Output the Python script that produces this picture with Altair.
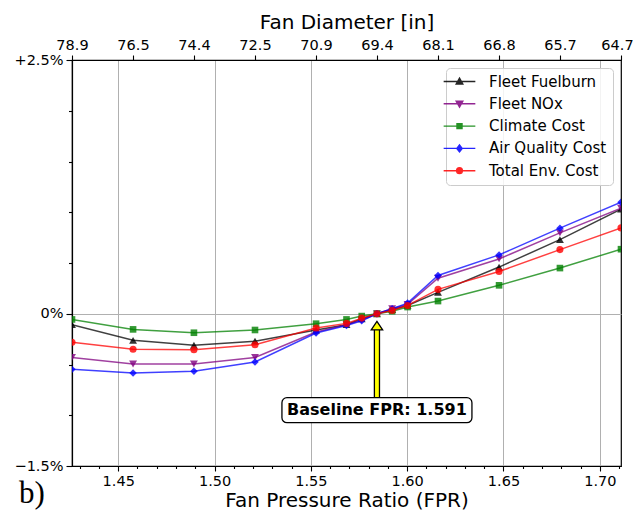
import json
import altair as alt
import pandas as pd

# ---------------- data ----------------
fpr = [1.4260, 1.4577, 1.4893, 1.5210, 1.5527, 1.5685, 1.5764, 1.5843,
       1.5922, 1.6002, 1.6160, 1.6477, 1.6793, 1.7110]
fleet_fuelburn = [-0.108, -0.262, -0.310, -0.270, -0.160, -0.108, -0.050, 0.0,
                  0.040, 0.082, 0.210, 0.460, 0.730, 1.030]
fleet_nox = [-0.430, -0.495, -0.495, -0.430, -0.180, -0.108, -0.062, 0.0,
             0.050, 0.092, 0.350, 0.540, 0.797, 1.040]
climate_cost = [-0.056, -0.154, -0.187, -0.160, -0.098, -0.056, -0.023, 0.0,
                0.025, 0.066, 0.125, 0.280, 0.450, 0.636]
air_quality_cost = [-0.548, -0.584, -0.567, -0.475, -0.190, -0.115, -0.069, 0.0,
                    0.050, 0.105, 0.377, 0.580, 0.843, 1.098]
total_env_cost = [-0.280, -0.350, -0.355, -0.305, -0.140, -0.095, -0.043, 0.0,
                  0.033, 0.082, 0.240, 0.416, 0.632, 0.846]

series_names = ["Fleet Fuelburn", "Fleet NOx", "Climate Cost",
                "Air Quality Cost", "Total Env. Cost"]
series_values = [fleet_fuelburn, fleet_nox, climate_cost, air_quality_cost, total_env_cost]
series_colors = ["#000000", "#800080", "#008000", "#0000ff", "#ff0000"]
marker_shapes = ["triangle-up", "triangle-down", "square", "diamond", "circle"]
marker_sizes = [62, 62, 44, 56, 50]
legend_paths = [
    "M-2.64,0H2.64M0,-0.55L0.55,0.42L-0.55,0.42Z",
    "M-2.64,0H2.64M0,0.55L0.55,-0.42L-0.55,-0.42Z",
    "M-2.64,0H2.64M-0.42,-0.42H0.42V0.42H-0.42Z",
    "M-2.64,0H2.64M0,-0.58L0.45,0L0,0.58L-0.45,0Z",
    "M-2.64,0H2.64M-0.48,0A0.48,0.48,0,1,0,0.48,0A0.48,0.48,0,1,0,-0.48,0Z",
]

fan_diameter_labels = ["78.9", "76.5", "74.4", "72.5", "70.9",
                       "69.4", "68.1", "66.8", "65.7", "64.7"]

x_major = [1.45, 1.50, 1.55, 1.60, 1.65, 1.70]
x_tick_values = [round(1.43 + 0.01 * i, 2) for i in range(29)]
x_tick_labels = [f"{v:.2f}" if v in x_major else "" for v in x_tick_values]
y_tick_values = [-1.5, -1.0, -0.5, 0.0, 0.5, 1.0, 1.5, 2.0, 2.5]
y_tick_labels = ["\u22121.5%", "", "", "0%", "", "", "", "", "+2.5%"]
y_major = [-1.5, 0.0, 2.5]

baseline_fpr = 1.5843
baseline_text = "Baseline FPR: 1.591"
arrow_tip = -0.076
arrow_base = -0.155
arrow_tail = -0.84
label_y = -0.95

# ---------------- frames ----------------
rows = []
for name, vals in zip(series_names, series_values):
    for xv, yv in zip(fpr, vals):
        rows.append({"fpr": xv, "value": yv, "series": name})
df = pd.DataFrame(rows)

ann = pd.DataFrame({"x": [baseline_fpr], "tail": [arrow_tail], "base": [arrow_base],
                    "tip": [arrow_tip], "label_y": [label_y], "text": [baseline_text]})
top_df = pd.DataFrame({"idx": list(range(len(fan_diameter_labels)))})
panel_df = pd.DataFrame({"t": ["b)"]})

# ---------------- scales / axes ----------------
x_scale = alt.Scale(domain=[fpr[0], fpr[-1]], nice=False, zero=False)
y_scale = alt.Scale(domain=[-1.5, 2.5], nice=False, zero=False)
color_scale = alt.Scale(domain=series_names, range=series_colors)
shape_scale = alt.Scale(domain=series_names, range=legend_paths)

x_major_test = f"indexof({json.dumps(x_major)}, datum.value) >= 0"
x_axis = alt.Axis(
    orient="bottom", values=x_tick_values,
    labelExpr=f"{json.dumps(x_tick_labels)}[indexof({json.dumps(x_tick_values)}, datum.value)]",
    title="Fan Pressure Ratio (FPR)", titleFontSize=20, labelFontSize=14.5,
    tickSize={"condition": {"test": x_major_test, "value": 5}, "value": 2.5},
    grid=True,
    gridOpacity={"condition": {"test": x_major_test, "value": 1}, "value": 0},
    labelPadding=3, titlePadding=3, labelFlush=False,
)
y_major_test = f"indexof({json.dumps(y_major)}, datum.value) >= 0"
y_axis = alt.Axis(
    values=y_tick_values, title=None,
    labelExpr=f"{json.dumps(y_tick_labels, ensure_ascii=False)}[indexof({json.dumps(y_tick_values)}, datum.value)]",
    labelFontSize=14.5,
    tickSize={"condition": {"test": y_major_test, "value": 6}, "value": 3.5},
    grid=True,
    gridOpacity={"condition": {"test": "datum.value == 0", "value": 1}, "value": 0},
    labelPadding=3, labelFlush=False,
)

legend_def = alt.Legend(
    title=None, orient="top-right", offset=8, padding=6,
    labelFontSize=15, labelFont="DejaVu Sans", labelColor="black",
    labelOffset=22, symbolSize=144, symbolStrokeWidth=1.4, symbolOpacity=0.85,
    fillColor="rgba(255,255,255,0.85)", strokeColor="#cccccc", cornerRadius=4,
    rowPadding=6.3,
)

# ---------------- layers ----------------
legend_layer = alt.Chart(df).transform_filter("false").mark_point(
    filled=True, strokeWidth=1.4
).encode(
    color=alt.Color("series:N", scale=color_scale, legend=legend_def),
    stroke=alt.Stroke("series:N", scale=color_scale, legend=legend_def),
    shape=alt.Shape("series:N", scale=shape_scale, legend=legend_def),
)

layers = []
for name, col, shape, size in zip(series_names, series_colors, marker_shapes, marker_sizes):
    layers.append(
        alt.Chart(df).transform_filter(alt.datum.series == name)
        .mark_line(color=col, strokeWidth=1.5, opacity=0.75, clip=True,
                   point=alt.OverlayMarkDef(shape=shape, size=size, filled=True, color=col,
                                            opacity=0.8, clip=True))
        .encode(
            x=alt.X("fpr:Q", scale=x_scale, axis=x_axis),
            y=alt.Y("value:Q", scale=y_scale, axis=y_axis),
        )
    )

ax = alt.X("x:Q", scale=x_scale, axis=x_axis)
shaft_black = alt.Chart(ann).mark_rule(color="black", strokeWidth=6.4).encode(
    x=ax, y=alt.Y("tail:Q", scale=y_scale, axis=y_axis), y2="base:Q")
shaft_yellow = alt.Chart(ann).mark_rule(color="#ffff00", strokeWidth=3.8).encode(
    x=ax, y=alt.Y("tail:Q", scale=y_scale, axis=y_axis), y2="base:Q")
head = alt.Chart(ann).mark_point(
    shape="M0,0L0.95,1.4L-0.95,1.4Z", size=144, filled=True,
    fill="#ffff00", stroke="black", strokeWidth=1.3, opacity=1,
).encode(x=ax, y=alt.Y("tip:Q", scale=y_scale, axis=y_axis))
box = alt.Chart(ann).mark_rect(
    fill="white", stroke="black", strokeWidth=1.3, cornerRadius=5,
    xOffset=-95, x2Offset=95, yOffset=-12.5, y2Offset=12.5,
).encode(x=ax, x2="x:Q", y=alt.Y("label_y:Q", scale=y_scale, axis=y_axis), y2="label_y:Q")
label = alt.Chart(ann).mark_text(
    font="DejaVu Sans", fontWeight="bold", fontSize=16, color="black", baseline="middle",
).encode(x=ax, y=alt.Y("label_y:Q", scale=y_scale, axis=y_axis), text="text:N")

panel = alt.Chart(panel_df).mark_text(
    font="Liberation Serif", fontSize=31, color="black", align="center", baseline="alphabetic"
).encode(x=alt.value(-40), y=alt.value(443), text="t:N")

main = alt.layer(legend_layer, *layers, shaft_black, shaft_yellow, head, box, label, panel)

n_top = len(fan_diameter_labels)
top = alt.Chart(top_df).mark_point(opacity=0).encode(
    x=alt.X("idx:Q", scale=alt.Scale(domain=[0, n_top - 1], nice=False, zero=False),
            axis=alt.Axis(orient="top", values=list(range(n_top)),
                          labelExpr=f"{json.dumps(fan_diameter_labels)}[datum.value]",
                          title="Fan Diameter [in]", titleFontSize=20, labelFontSize=14.5,
                          grid=False, tickSize=5, labelPadding=3, titlePadding=5,
                          labelOffset={"condition": {"test": f"datum.value == {n_top - 1}", "value": -4},
                                       "value": 0},
                          labelFlush=False))
)

chart = alt.layer(main, top).resolve_scale(x="independent").properties(
    width=549, height=406,
    autosize=alt.AutoSizeParams(type="none"),
    padding={"left": 64, "top": 52, "right": 12, "bottom": 47},
).configure(font="DejaVu Sans").configure_view(
    stroke="black", strokeWidth=1.2
).configure_axis(
    domainColor="black", tickColor="black", labelColor="black", titleColor="black",
    labelFont="DejaVu Sans", titleFont="DejaVu Sans", titleFontWeight="normal",
    gridColor="#b0b0b0", gridWidth=1, domainWidth=1.2, tickWidth=1.1,
)

chart.save("out.html", embed_options={"renderer": "svg", "actions": False})
